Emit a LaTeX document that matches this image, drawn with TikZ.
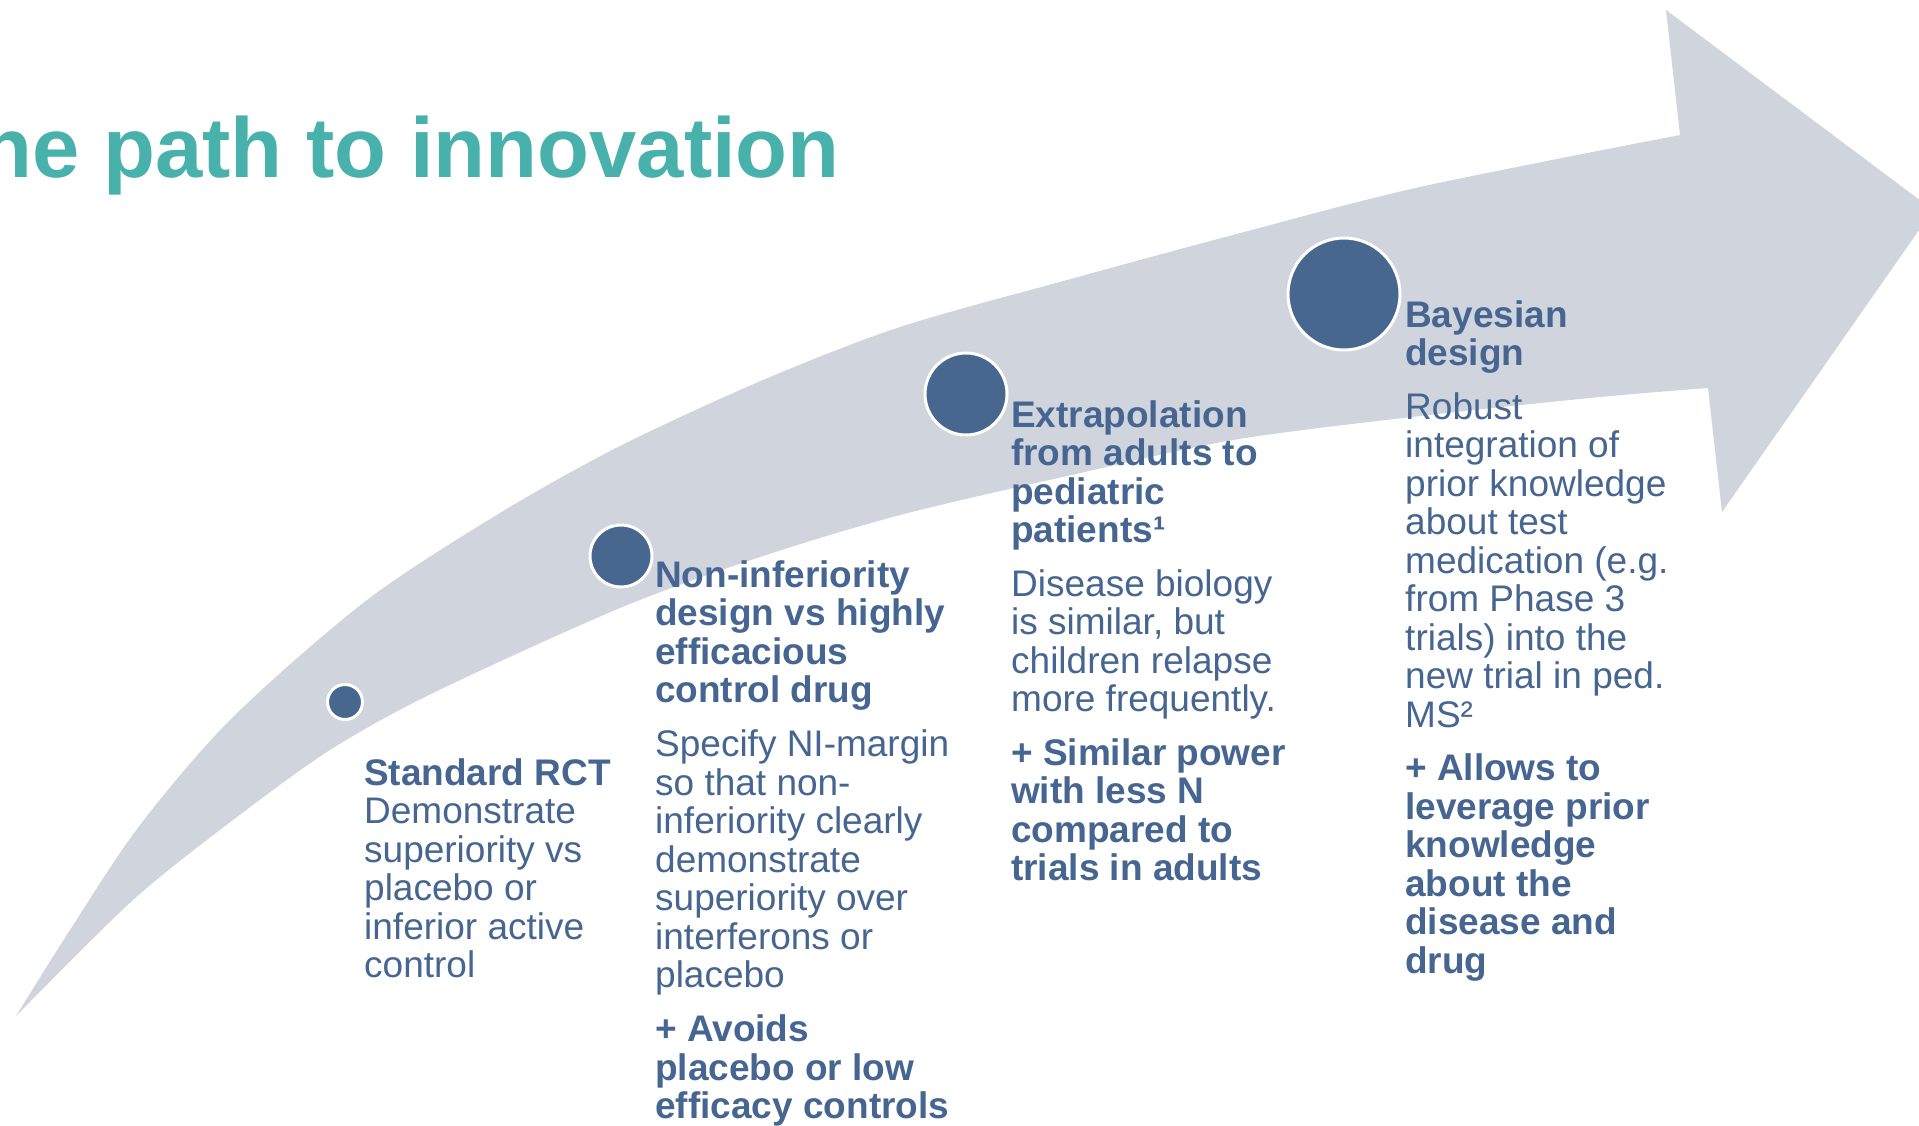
\documentclass[tikz,border=0pt]{standalone}
\usepackage{fontspec}
\setmainfont{Liberation Sans}
\definecolor{ttl}{RGB}{72,177,171}
\definecolor{txt}{RGB}{70,102,145}
\definecolor{dot}{RGB}{71,103,143}
\definecolor{arr}{RGB}{207,212,221}
\begin{document}
\begin{tikzpicture}[x=1pt,y=-1pt,
  colbox/.style={anchor=north west, inner sep=0pt, align=left, text=txt,
    font=\fontsize{37}{38.5}\selectfont},
  dotc/.style={circle, fill=dot, draw=white, line width=3pt, inner sep=0pt, minimum size=#1}]
\useasboundingbox (0,0) rectangle (1919,1125);
\fill[white] (0,0) rectangle (1919,1125);
% big curved arrow
\fill[arr] plot[smooth, tension=0.5] coordinates {(16,1016) (70,930) (140,825) (233,717) (367,600) (500,513) (620,446) (763,380) (900,327) (1067,280) (1233,235) (1420,187) (1680,135)}
  -- (1666,10) -- (1933,210) -- (1722,512) -- (1708,388)
  -- plot[smooth, tension=0.5] coordinates {(1708,388) (1600,397) (1420,416) (1233,440) (1067,476) (900,515) (760,557) (620,608) (433,693) (330,750) (233,820) (133,900) (16,1016)} -- cycle;
% title
\node[anchor=base east, inner sep=0pt, text=ttl, font=\fontsize{85}{90}\selectfont\bfseries] (title) at (840,177) {The path to innovation};
% milestones
\node[dotc=35pt] (c1) at (345,702) {};
\node[dotc=62pt] (c2) at (621,556) {};
\node[dotc=82pt] (c3) at (966,394) {};
\node[dotc=112pt] (c4) at (1344,294) {};
% texts
\node[colbox] (t1) at (364,755) {\rule{0pt}{30pt}\textbf{Standard RCT}\\ Demonstrate\\ superiority vs\\ placebo or\\ inferior active\\ control};
\node[colbox] (t2) at (655,557) {\rule{0pt}{30pt}\textbf{Non-inferiority}\\ \textbf{design vs highly}\\ \textbf{efficacious}\\ \textbf{control drug}\\[15.5pt] Specify NI-margin\\ so that non-\\ inferiority clearly\\ demonstrate\\ superiority over\\ interferons or\\ placebo\\[15.5pt] \textbf{+ Avoids}\\ \textbf{placebo or low}\\ \textbf{efficacy controls}};
\node[colbox] (t3) at (1011,397) {\rule{0pt}{30pt}\textbf{Extrapolation}\\ \textbf{from adults to}\\ \textbf{pediatric}\\ \textbf{patients¹}\\[15pt] Disease biology\\ is similar, but\\ children relapse\\ more frequently.\\[15pt] \textbf{+ Similar power}\\ \textbf{with less N}\\ \textbf{compared to}\\ \textbf{trials in adults}};
\node[colbox] (t4) at (1405,297) {\rule{0pt}{30pt}\textbf{Bayesian}\\ \textbf{design}\\[15pt] Robust\\ integration of\\ prior knowledge\\ about test\\ medication (e.g.\\ from Phase 3\\ trials) into the\\ new trial in ped.\\ MS²\\[15pt] \textbf{+ Allows to}\\ \textbf{leverage prior}\\ \textbf{knowledge}\\ \textbf{about the}\\ \textbf{disease and}\\ \textbf{drug}};
\end{tikzpicture}
\end{document}
